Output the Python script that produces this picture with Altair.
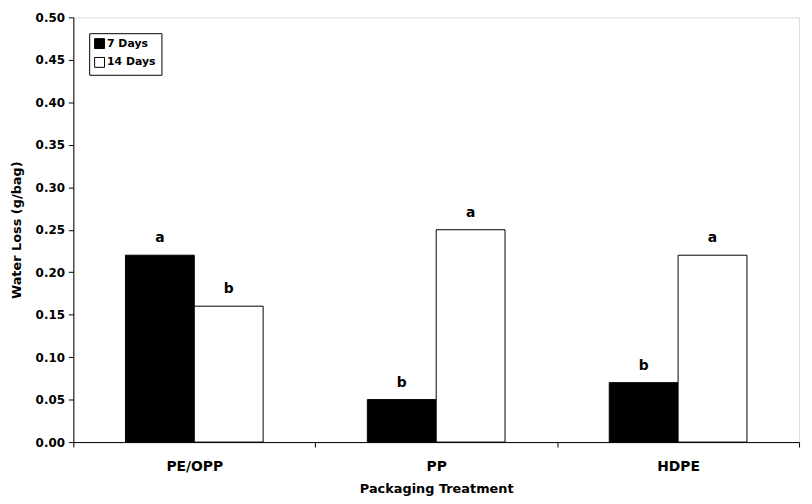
import altair as alt
import pandas as pd

categories = ["PE/OPP", "PP", "HDPE"]
days = ["7 Days", "14 Days"]
values_7 = [0.22, 0.05, 0.07]
values_14 = [0.16, 0.25, 0.22]
letters_7 = ["a", "b", "b"]
letters_14 = ["b", "a", "a"]

rows = []
for i, c in enumerate(categories):
    rows.append({"cat": c, "day": days[0], "val": values_7[i], "let": letters_7[i]})
    rows.append({"cat": c, "day": days[1], "val": values_14[i], "let": letters_14[i]})
df = pd.DataFrame(rows)

FONT = "DejaVu Sans"

x = alt.X("cat:N", sort=categories, title="Packaging Treatment",
          scale=alt.Scale(paddingInner=0, paddingOuter=0),
          axis=alt.Axis(labelAngle=0, tickBand="extent", domainColor="black", tickColor="black",
                        tickSize=5, labelPadding=13, titlePadding=9, labelFontSize=14,
                        titleFontSize=13, labelFont=FONT, titleFont=FONT,
                        labelFontWeight="bold", titleFontWeight="bold",
                        labelColor="black", titleColor="black"))
xo = alt.XOffset("day:N", sort=days, scale=alt.Scale(paddingInner=0, paddingOuter=0.757))
y = alt.Y("val:Q", title="Water Loss (g/bag)",
          scale=alt.Scale(domain=[0, 0.5], nice=False),
          axis=alt.Axis(values=[0, 0.05, 0.1, 0.15, 0.2, 0.25, 0.3, 0.35, 0.4, 0.45, 0.5],
                        format=".2f", grid=False, domainColor="black", tickColor="black",
                        tickSize=5, labelPadding=4, titlePadding=12, labelFontSize=12,
                        titleFontSize=13, labelFont=FONT, titleFont=FONT,
                        labelFontWeight="bold", titleFontWeight="bold",
                        labelColor="black", titleColor="black"))

bars = alt.Chart(df).mark_bar(stroke="black", strokeWidth=1).encode(
    x=x, xOffset=xo, y=y,
    fill=alt.Fill("day:N", sort=days,
                  scale=alt.Scale(domain=days, range=["black", "white"]),
                  legend=alt.Legend(title=None, orient="none", legendX=16, legendY=16,
                                    symbolType="square", symbolSize=100, symbolStrokeColor="black",
                                    symbolStrokeWidth=1, labelFont=FONT, labelFontSize=11,
                                    labelFontWeight="bold", labelColor="black",
                                    strokeColor="black", padding=5, rowPadding=4,
                                    labelOffset=2, fillColor="white")),
)

labels = alt.Chart(df).mark_text(baseline="bottom", dy=-10, font=FONT, fontSize=14,
                                 fontWeight="bold", color="black").encode(
    x=alt.X("cat:N", sort=categories), xOffset=alt.XOffset("day:N", sort=days),
    y="val:Q", text="let:N")

chart = (bars + labels).properties(
    width=733, height=429,
    autosize=alt.AutoSizeParams(type="none"),
    padding={"left": 66, "top": 7, "right": 5, "bottom": 52},
).configure_view(stroke=None).configure(background="white")

chart.save("out.html", embed_options={"renderer": "svg", "actions": False})
